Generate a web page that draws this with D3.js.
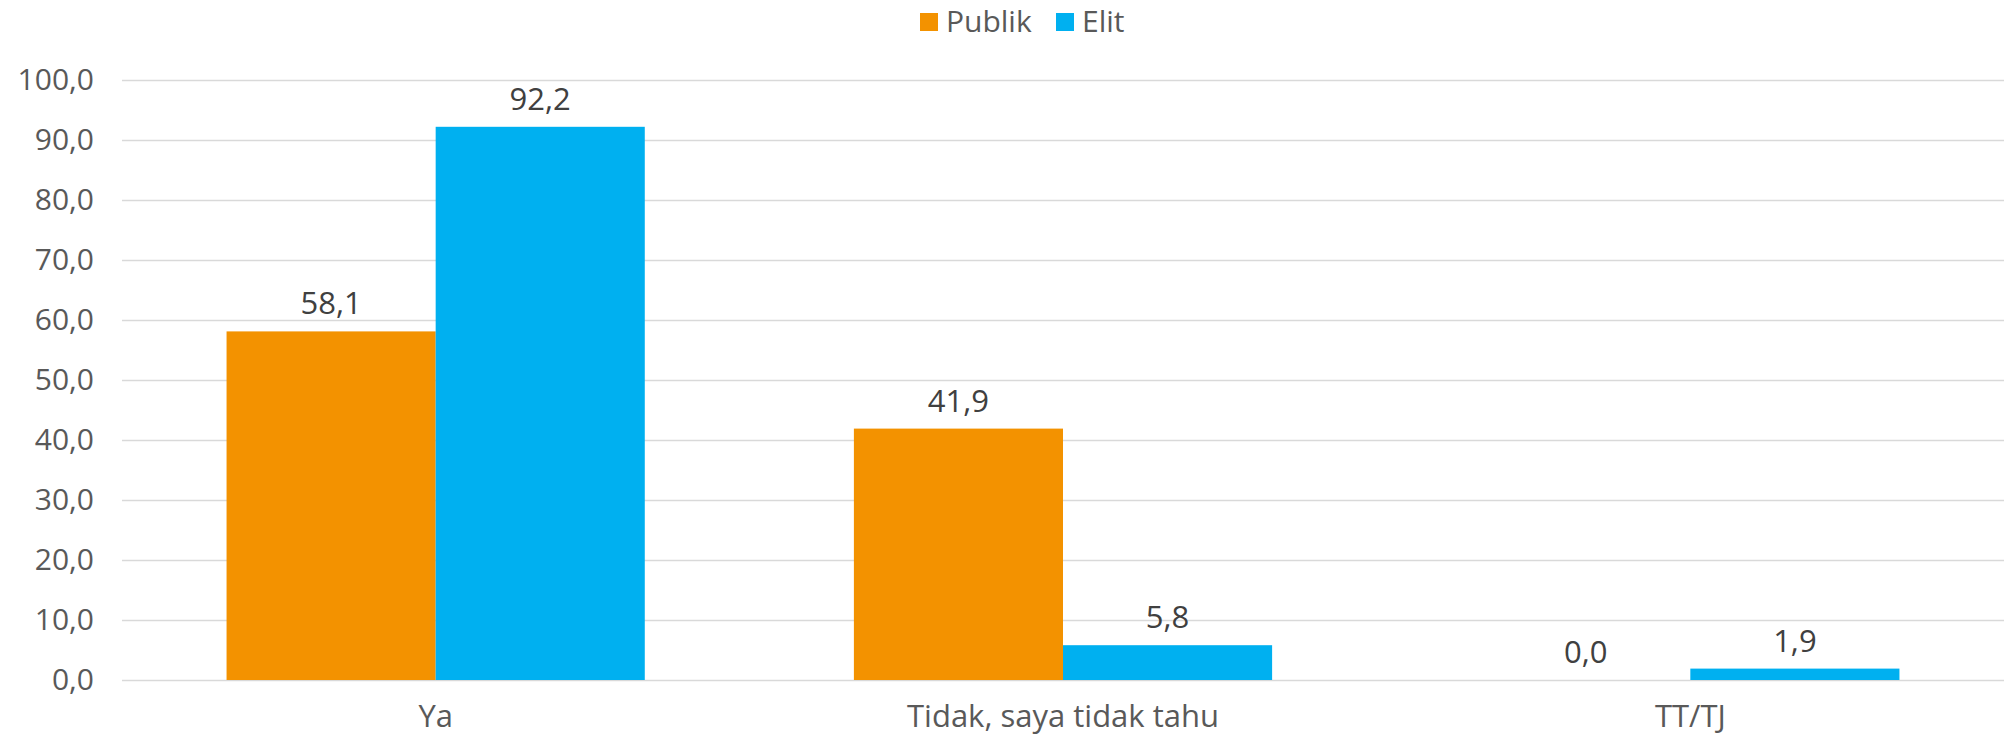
<!DOCTYPE html>
<html>
<head>
<meta charset="utf-8">
<script src="https://cdn.jsdelivr.net/npm/d3@7"></script>
<style>
    html, body { margin: 0; padding: 0; background: #fff; }
    svg text { font-family: "Open Sans", "DejaVu Sans", sans-serif; }
</style>
</head>
<body>
<div id="chart"></div>
<script>
//Datos del gráfico
const categorias = ['Ya', 'Tidak, saya tidak tahu', 'TT/TJ'];
const series = ['Publik', 'Elit'];
const valoresPublik = [58.1, 41.9, 0.0];
const valoresElit = [92.2, 5.8, 1.9];
const ticksY = [0, 10, 20, 30, 40, 50, 60, 70, 80, 90, 100];

//Colores fijos
const COLOR_PUBLIK = '#F39200',
COLOR_ELIT = '#00B0F0',
COLOR_GRID = '#D9D9D9',
COLOR_TEXT = '#595959',
COLOR_LABEL = '#404040';

let margin = {top: 80, right: 1, bottom: 58, left: 122},
    width = 2005 - margin.left - margin.right,
    height = 738 - margin.top - margin.bottom;

let svg = d3.select('#chart')
    .append('svg')
      .attr('width', 2005)
      .attr('height', 738);

let chart = svg.append('g')
    .attr('transform', 'translate(' + margin.left + ',' + margin.top + ')');

let fmt = function(v) { return d3.format('.1f')(v).replace('.', ','); };

//Eje Y
let y = d3.scaleLinear()
    .domain([0, 100])
    .range([height, 0]);

let yAxis = d3.axisLeft(y)
    .tickValues(ticksY)
    .tickSize(-width)
    .tickPadding(28)
    .tickFormat(fmt);

let gy = chart.append('g').call(yAxis);
gy.select('.domain').remove();
gy.selectAll('.tick line').attr('stroke', COLOR_GRID).attr('stroke-width', 1.5);
gy.selectAll('.tick text')
    .attr('fill', COLOR_TEXT)
    .style('font-size', '30px');

//Eje X
let x = d3.scaleBand()
    .domain(categorias)
    .range([0, width])
    .paddingInner(0)
    .paddingOuter(0);

let xSub = d3.scaleBand()
    .domain(series)
    .range([0, x.bandwidth()])
    .paddingInner(0)
    .paddingOuter(0.5);

let xAxis = d3.axisBottom(x)
    .tickSize(0)
    .tickPadding(25);

let gx = chart.append('g')
    .attr('transform', 'translate(0,' + height + ')')
    .call(xAxis);
gx.select('.domain').remove();
gx.selectAll('.tick text')
    .attr('fill', COLOR_TEXT)
    .style('font-size', '31px');

//Barras
let color = d3.scaleOrdinal()
    .domain(series)
    .range([COLOR_PUBLIK, COLOR_ELIT]);

let datos = categorias.map(function(c, i) {
    return { cat: c, valores: [
        { serie: 'Publik', valor: valoresPublik[i] },
        { serie: 'Elit', valor: valoresElit[i] }
    ]};
});

let grupos = chart.selectAll('.grupo')
    .data(datos)
    .enter()
    .append('g')
    .attr('class', 'grupo')
    .attr('transform', function(d) { return 'translate(' + x(d.cat) + ',0)'; });

grupos.selectAll('rect')
    .data(function(d) { return d.valores; })
    .enter()
    .append('rect')
    .attr('x', function(d) { return xSub(d.serie); })
    .attr('width', xSub.bandwidth())
    .attr('y', function(d) { return y(d.valor); })
    .attr('height', function(d) { return height - y(d.valor); })
    .attr('fill', function(d) { return color(d.serie); });

grupos.selectAll('.label')
    .data(function(d) { return d.valores; })
    .enter()
    .append('text')
    .attr('class', 'label')
    .attr('x', function(d) { return xSub(d.serie) + xSub.bandwidth() / 2; })
    .attr('y', function(d) { return y(d.valor) - 17; })
    .attr('text-anchor', 'middle')
    .attr('fill', COLOR_LABEL)
    .style('font-size', '31px')
    .text(function(d) { return fmt(d.valor); });

//Leyenda
let leyenda = svg.append('g');
let posLeyenda = [920, 1056];
series.forEach(function(s, i) {
    let g = leyenda.append('g').attr('transform', 'translate(' + posLeyenda[i] + ',0)');
    g.append('rect')
        .attr('x', 0).attr('y', 13)
        .attr('width', 18).attr('height', 18)
        .attr('fill', color(s));
    g.append('text')
        .attr('x', 26).attr('y', 32)
        .attr('fill', COLOR_TEXT)
        .style('font-size', '30px')
        .text(s);
});
</script>
</body>
</html>
